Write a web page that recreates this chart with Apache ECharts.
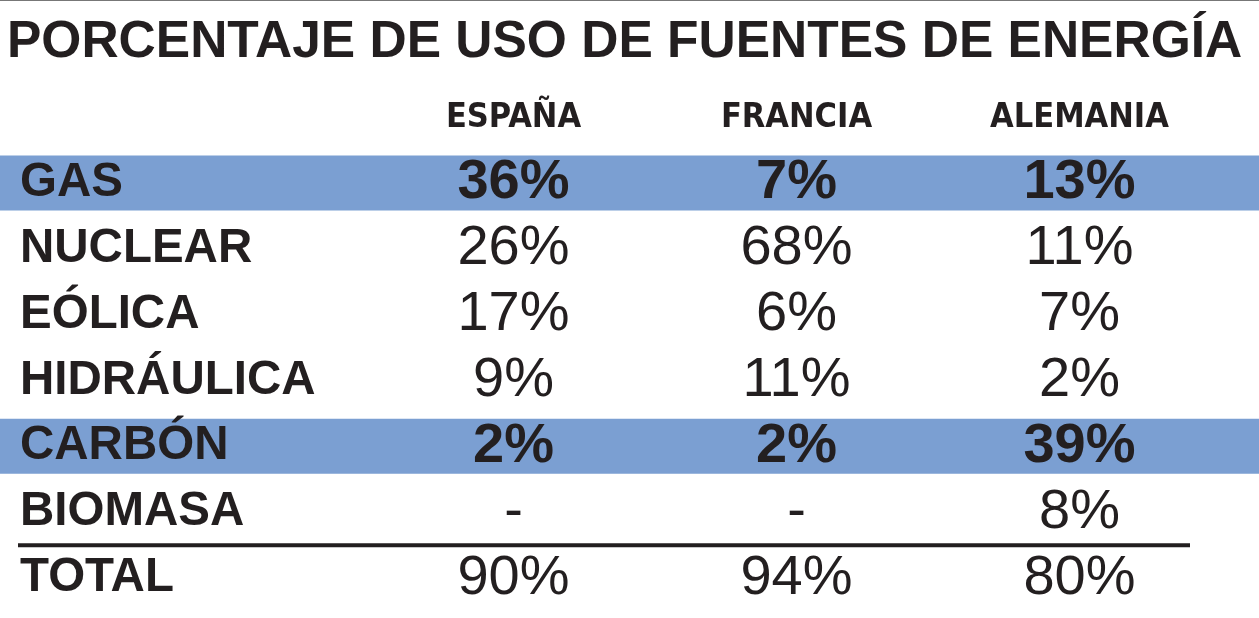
<!DOCTYPE html>
<html>
<head>
<meta charset="utf-8">
<script src="https://cdn.jsdelivr.net/npm/echarts@6/dist/echarts.min.js"></script>
<style>
html, body { margin: 0; padding: 0; background: #fff; }
#chart { width: 1259px; height: 618px; }
</style>
</head>
<body>
<div id="chart"></div>
<script>
// datos de la tabla
var fuentes = ['GAS', 'NUCLEAR', 'EÓLICA', 'HIDRÁULICA', 'CARBÓN', 'BIOMASA', 'TOTAL'];
var paises = ['ESPAÑA', 'FRANCIA', 'ALEMANIA'];
var espana = [36, 26, 17, 9, 2, null, 90];
var francia = [7, 68, 6, 11, 2, null, 94];
var alemania = [13, 11, 7, 2, 39, 8, 80];
var destacadas = ['GAS', 'CARBÓN'];

var INK = '#231f20';
var AZUL = '#7b9fd2';
var FONT = '"Liberation Sans", Arial, Helvetica, sans-serif';

var chart = echarts.init(document.getElementById('chart'));

// celdas de la tabla: [pais, fuente] con su texto
function celdas() {
    var cols = [espana, francia, alemania];
    var out = [];
    cols.forEach(function (vals, c) {
        vals.forEach(function (v, r) {
            var bold = destacadas.indexOf(fuentes[r]) >= 0;
            out.push({
                value: [paises[c], fuentes[r]],
                txt: v == null ? '-' : v + '%',
                label: { fontWeight: bold ? 'bold' : 'normal' }
            });
        });
    });
    return out;
}

var TOP = 150, BOTTOM = 7;

chart.setOption({
    animation: false,
    backgroundColor: '#fff',
    title: {
        text: 'PORCENTAJE DE USO DE FUENTES DE ENERGÍA',
        left: 7,
        top: 17,
        padding: 0,
        textStyle: { fontFamily: FONT, fontWeight: 'bold', fontSize: 51.5, color: INK }
    },
    grid: [
        { left: 0, right: 0, top: TOP, bottom: BOTTOM },
        { left: 372, right: 38, top: TOP, bottom: BOTTOM }
    ],
    xAxis: [
        { gridIndex: 0, type: 'value', min: 0, max: 1, show: false },
        {
            gridIndex: 1, type: 'category', data: paises, position: 'top', z: 10,
            axisLine: { show: false }, axisTick: { show: false }, splitLine: { show: false },
            axisLabel: {
                margin: 15, color: INK, fontSize: 34, fontWeight: 'bold',
                fontFamily: '"Liberation Sans Narrow", "DejaVu Sans Condensed", sans-serif'
            }
        }
    ],
    yAxis: [
        { gridIndex: 0, type: 'category', data: fuentes, inverse: true, show: false },
        {
            gridIndex: 1, type: 'category', data: fuentes, inverse: true, z: 10,
            axisLine: { show: false }, axisTick: { show: false }, splitLine: { show: false },
            axisLabel: {
                margin: 352, align: 'left', color: INK, fontSize: 47.5,
                fontWeight: 'bold', fontFamily: FONT
            }
        }
    ],
    series: [
        {
            // franjas azules de las filas destacadas
            type: 'bar', xAxisIndex: 0, yAxisIndex: 0, silent: true, z: 0,
            barWidth: 55,
            itemStyle: { color: AZUL },
            data: fuentes.map(function (f) { return destacadas.indexOf(f) >= 0 ? 1 : 0; })
        },
        {
            type: 'scatter', xAxisIndex: 1, yAxisIndex: 1, silent: true, z: 10,
            symbolSize: 1,
            itemStyle: { color: 'rgba(0,0,0,0)', opacity: 1 },
            label: {
                show: true, position: 'inside', color: INK, opacity: 1, fontSize: 56, fontFamily: FONT,
                formatter: function (p) { return p.data.txt; }
            },
            data: celdas()
        }
    ]
});

// linea encima de TOTAL, entre las dos ultimas filas
var yLinea = (chart.convertToPixel({ yAxisIndex: 1 }, 'BIOMASA') +
    chart.convertToPixel({ yAxisIndex: 1 }, 'TOTAL')) / 2;
chart.setOption({
    graphic: [
        { type: 'rect', shape: { x: 0, y: 0, width: 1259, height: 1 }, style: { fill: '#777' }, silent: true },
        { type: 'line', shape: { x1: 18, y1: yLinea, x2: 1190, y2: yLinea }, style: { stroke: INK, lineWidth: 4 }, silent: true }
    ]
});
</script>
</body>
</html>
